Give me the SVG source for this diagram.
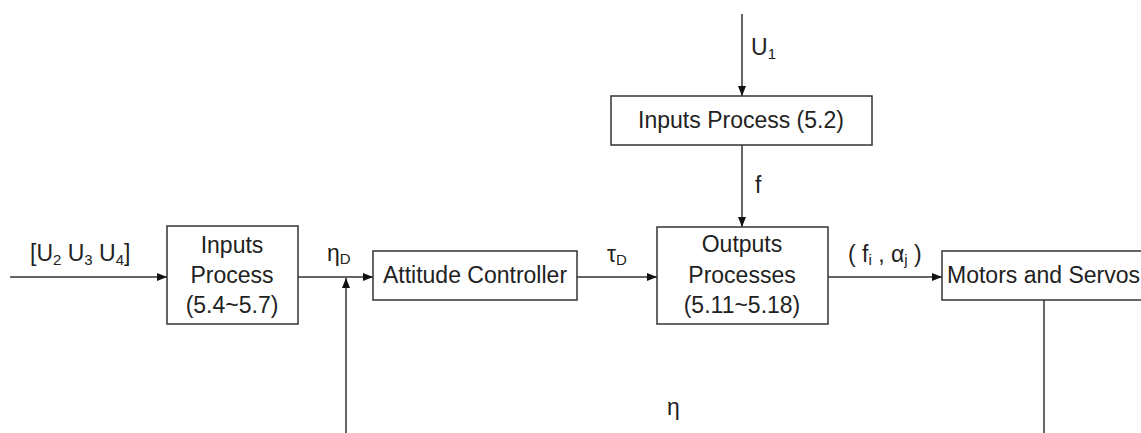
<svg xmlns="http://www.w3.org/2000/svg" width="1141" height="433" viewBox="0 0 1141 433">
<style>
.box{fill:#fff;stroke:#333;stroke-width:1.5}
.ln{fill:none;stroke:#333;stroke-width:1.5}
text{font-family:"Liberation Sans",Arial,sans-serif;font-size:23px;fill:#222}
.c{text-anchor:middle}
.s{font-size:15px}
</style>
<defs>
<marker id="ah" viewBox="0 0 10 10" refX="10" refY="5" markerWidth="10" markerHeight="10" markerUnits="userSpaceOnUse" orient="auto">
<path d="M0,1 L10,5 L0,9 Z" fill="#111"/>
</marker>
</defs>
<g id="connectors">
<line class="ln" x1="10" y1="277" x2="167" y2="277" marker-end="url(#ah)"/>
<line class="ln" x1="298" y1="277" x2="373" y2="277" marker-end="url(#ah)"/>
<line class="ln" x1="346" y1="433" x2="346" y2="278" marker-end="url(#ah)"/>
<line class="ln" x1="577" y1="277" x2="657" y2="277" marker-end="url(#ah)"/>
<line class="ln" x1="742" y1="14" x2="742" y2="96" marker-end="url(#ah)"/>
<line class="ln" x1="742" y1="145" x2="742" y2="227" marker-end="url(#ah)"/>
<line class="ln" x1="828" y1="277" x2="942" y2="277" marker-end="url(#ah)"/>
<line class="ln" x1="1044" y1="300" x2="1044" y2="433"/>
<text x="30" y="261">[U<tspan class="s" dy="4">2</tspan><tspan dy="-4"> U</tspan><tspan class="s" dy="4">3</tspan><tspan dy="-4"> U</tspan><tspan class="s" dy="4">4</tspan><tspan dy="-4">]</tspan></text>
<text x="327" y="261">η<tspan class="s" dy="3">D</tspan></text>
<text x="607" y="262">τ<tspan class="s" dy="3">D</tspan></text>
<text x="751" y="55">U<tspan class="s" dy="4">1</tspan></text>
<text x="755" y="193">f</text>
<text x="848" y="262">( f<tspan class="s" dy="3">i</tspan><tspan dy="-3"> , α</tspan><tspan class="s" dy="3">j</tspan><tspan dy="-3"> )</tspan></text>
<text x="667" y="415">η</text>
</g>
<g id="inputs-process-left">
<rect class="box" x="167" y="226" width="131" height="98"/>
<text class="c" x="232" y="253">Inputs</text>
<text class="c" x="232" y="283">Process</text>
<text class="c" x="232" y="313">(5.4~5.7)</text>
</g>
<g id="attitude-controller">
<rect class="box" x="373" y="251" width="204" height="49"/>
<text class="c" x="475" y="283">Attitude Controller</text>
</g>
<g id="inputs-process-top">
<rect class="box" x="611" y="96" width="261" height="49"/>
<text class="c" x="741" y="128">Inputs Process (5.2)</text>
</g>
<g id="outputs-processes">
<rect class="box" x="657" y="227" width="171" height="97"/>
<text class="c" x="742" y="252">Outputs</text>
<text class="c" x="742" y="283">Processes</text>
<text class="c" x="742" y="313">(5.11~5.18)</text>
</g>
<g id="motors-servos">
<rect class="box" x="942" y="251" width="210" height="49"/>
<text x="947" y="283">Motors and Servos</text>
</g>
</svg>
